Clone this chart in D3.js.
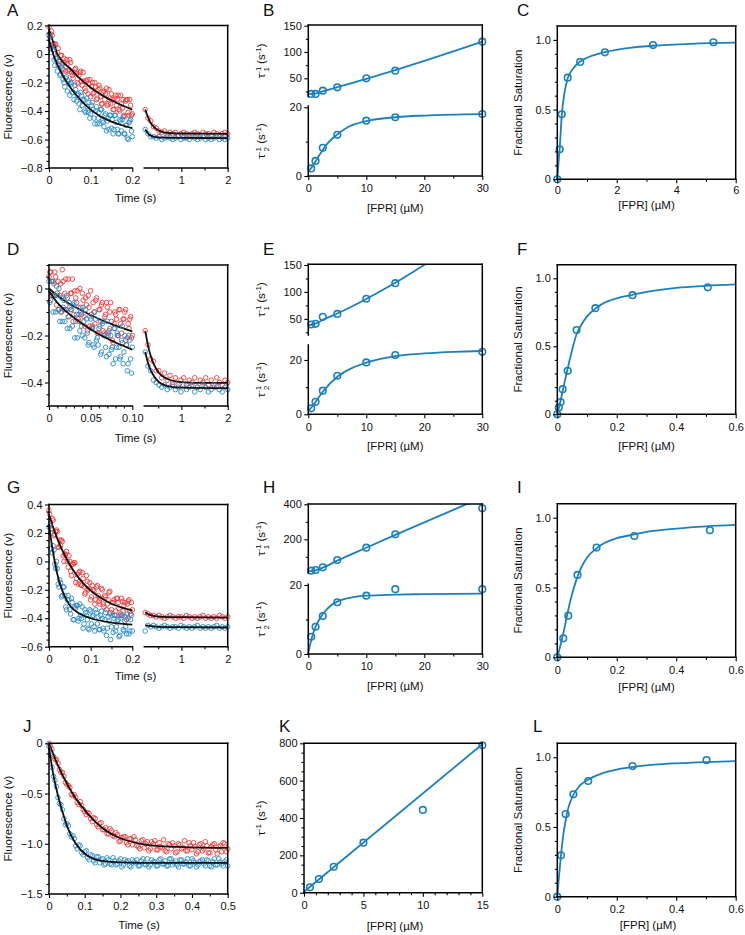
<!DOCTYPE html>
<html><head><meta charset="utf-8">
<script src="https://cdn.jsdelivr.net/npm/d3@7"></script>
<style>
body{margin:0;background:#fff;}
svg{display:block;}
</style></head><body>
<script>
// ===================== DATA =====================
// --- Panel A (time courses; red & blue traces, split time axis) ---
const tA_left = [0, 0.2], tA_left_b = [0.002, 0.198], tA_right = [0.22, 2];
const redA_left = [.19,.14,.13,.05,.07,.01,-.05,-.01,-.07,-.03,-.12,-.07,-.11,-.06,-.15,-.13,-.10,-.20,-.15,-.12,-.22,-.19,-.26,-.18,-.21,-.30,-.20,-.27,-.23,-.31,-.22,-.30,-.35,-.26,-.28,-.36,-.25,-.35,-.32,-.39,-.29,-.32,-.39,-.29,-.38,-.43,-.33,-.32,-.43,-.36,-.42];
const redA_left_b = [.12,.16,.07,.07,-.03,.04,-.05,-.01,-.11,-.06,-.04,-.12,-.04,-.13,-.17,-.11,-.14,-.21,-.13,-.19,-.13,-.24,-.19,-.28,-.18,-.23,-.28,-.20,-.32,-.25,-.24,-.35,-.27,-.32,-.24,-.35,-.31,-.28,-.39,-.31,-.36,-.29,-.40,-.35,-.32,-.44,-.32,-.41,-.32,-.43];
const blueA_left = [.13,.04,.06,-.04,-.03,-.12,-.07,-.14,-.10,-.20,-.17,-.26,-.21,-.20,-.27,-.32,-.25,-.29,-.35,-.27,-.36,-.32,-.41,-.37,-.34,-.42,-.34,-.45,-.40,-.49,-.41,-.39,-.47,-.51,-.42,-.47,-.53,-.43,-.46,-.53,-.43,-.53,-.56,-.47,-.46,-.56,-.50,-.59,-.48,-.46,-.58];
const blueA_left_b = [.12,.01,.03,-.08,-.03,-.08,-.15,-.09,-.18,-.23,-.16,-.19,-.29,-.21,-.27,-.22,-.33,-.28,-.39,-.29,-.33,-.40,-.31,-.41,-.45,-.36,-.39,-.49,-.37,-.45,-.49,-.39,-.48,-.43,-.54,-.45,-.43,-.52,-.56,-.43,-.48,-.56,-.46,-.54,-.44,-.56,-.50,-.60,-.47,-.54];
const redA_right = [-.39,-.45,-.47,-.51,-.52,-.54,-.55,-.54,-.56,-.55,-.56,-.55,-.57,-.56,-.55,-.56,-.57,-.56,-.55,-.56,-.57,-.55,-.56,-.56,-.57,-.55,-.56,-.57,-.56,-.55,-.56];
const blueA_right = [-.53,-.56,-.58,-.58,-.59,-.58,-.60,-.59,-.58,-.59,-.60,-.59,-.58,-.60,-.59,-.59,-.60,-.58,-.59,-.60,-.59,-.58,-.60,-.59,-.60,-.59,-.58,-.60,-.59,-.60,-.59];
const fitA_redL = [[0,0.17],[0.01,0.085],[0.02,0.0],[0.035,-0.06],[0.05,-0.1],[0.075,-0.175],[0.1,-0.235],[0.125,-0.285],[0.15,-0.325],[0.175,-0.36],[0.2,-0.39]];
const fitA_blueL = [[0,0.10],[0.01,0.0],[0.02,-0.075],[0.035,-0.16],[0.05,-0.23],[0.075,-0.32],[0.1,-0.39],[0.125,-0.44],[0.15,-0.475],[0.175,-0.5],[0.2,-0.52]];
const fitA_redR = [[0.22,-0.39],[0.3,-0.46],[0.4,-0.51],[0.5,-0.535],[0.6,-0.548],[0.8,-0.556],[1,-0.558],[2,-0.56]];
const fitA_blueR = [[0.22,-0.53],[0.3,-0.565],[0.4,-0.58],[0.5,-0.585],[1,-0.589],[2,-0.59]];

// --- Panel D ---
const tD_left = [0, 0.1], tD_left_b = [0.001, 0.099], tD_right = [0.22, 2];
const redD_left = [.05,.07,-.03,.02,.05,-.02,-.09,.02,.08,-.09,.04,-.04,-.12,-.02,.04,-.11,-.04,-.01,-.14,-.08,-.02,-.12,-.04,-.18,-.08,-.01,-.16,-.10,-.05,-.19,-.09,-.14,-.06,-.19,-.11,-.08,-.18,-.06,-.22,-.15,-.11,-.20,-.09,-.15,-.23,-.13,-.09,-.21,-.17,-.12,-.20];
const redD_left_b = [.07,-.03,.03,.07,-.07,.03,-.03,-.10,.03,-.02,-.09,.04,-.08,-.02,-.14,-.01,-.06,-.13,.00,-.11,-.05,-.16,-.07,-.03,-.16,-.11,-.06,-.15,-.04,-.19,-.09,-.07,-.18,-.12,-.06,-.20,-.10,-.14,-.23,-.10,-.13,-.20,-.09,-.19,-.13,-.10,-.24,-.15,-.13,-.21];
const blueD_left = [.03,-.05,.03,-.03,-.10,-.03,.00,-.10,-.14,-.05,-.09,-.17,-.06,-.09,-.16,-.06,-.14,-.21,-.11,-.10,-.20,-.14,-.09,-.19,-.23,-.13,-.17,-.25,-.13,-.21,-.17,-.28,-.15,-.20,-.25,-.14,-.28,-.20,-.25,-.17,-.30,-.19,-.25,-.29,-.16,-.27,-.22,-.35,-.20,-.30,-.25];
const blueD_left_b = [-.06,.03,-.10,-.03,.01,-.09,-.14,-.04,-.08,-.14,-.03,-.12,-.17,-.09,-.07,-.21,-.11,-.08,-.18,-.16,-.08,-.21,-.13,-.24,-.12,-.17,-.24,-.10,-.22,-.24,-.16,-.27,-.14,-.20,-.29,-.19,-.17,-.26,-.32,-.17,-.25,-.20,-.30,-.22,-.32,-.20,-.24,-.32,-.22,-.36];
const redD_right = [-.18,-.24,-.30,-.31,-.35,-.35,-.38,-.36,-.39,-.37,-.40,-.38,-.41,-.39,-.38,-.41,-.39,-.40,-.38,-.42,-.39,-.40,-.38,-.41,-.39,-.42,-.38,-.40,-.41,-.39,-.40];
const blueD_right = [-.27,-.33,-.35,-.39,-.40,-.41,-.42,-.41,-.43,-.42,-.41,-.43,-.42,-.44,-.41,-.43,-.42,-.41,-.44,-.42,-.43,-.41,-.42,-.44,-.43,-.41,-.42,-.43,-.44,-.42,-.43];
const fitD_redL = [[0,0.0],[0.01,-0.03],[0.02,-0.055],[0.04,-0.095],[0.06,-0.13],[0.08,-0.158],[0.1,-0.183]];
const fitD_blueL = [[0,-0.01],[0.01,-0.06],[0.02,-0.095],[0.04,-0.15],[0.06,-0.195],[0.08,-0.23],[0.1,-0.26]];
const fitD_redR = [[0.22,-0.18],[0.3,-0.26],[0.4,-0.32],[0.5,-0.355],[0.7,-0.385],[1,-0.398],[1.5,-0.402],[2,-0.402]];
const fitD_blueR = [[0.22,-0.27],[0.3,-0.33],[0.4,-0.37],[0.5,-0.395],[0.7,-0.415],[1,-0.422],[2,-0.424]];

// --- Panel G ---
const tG_left = [0, 0.2], tG_left_b = [0.002, 0.198], tG_right = [0.22, 2];
const redG_left = [.36,.27,.30,.18,.21,.21,.10,.11,.14,.00,.05,.00,.04,-.07,-.02,-.01,-.15,-.09,-.08,-.16,-.08,-.18,-.22,-.14,-.19,-.27,-.17,-.21,-.27,-.17,-.28,-.26,-.20,-.32,-.25,-.30,-.22,-.36,-.29,-.27,-.35,-.26,-.33,-.37,-.28,-.31,-.39,-.30,-.27,-.37,-.34];
const redG_left_b = [.33,.23,.29,.19,.22,.10,.15,.15,.04,.05,.07,-.04,.00,-.10,-.02,-.01,-.12,-.16,-.07,-.17,-.12,-.23,-.10,-.20,-.15,-.25,-.20,-.30,-.18,-.24,-.30,-.19,-.30,-.24,-.34,-.27,-.21,-.34,-.29,-.38,-.26,-.29,-.38,-.26,-.35,-.29,-.41,-.28,-.35,-.29];
const blueG_left = [.24,.20,.06,.08,-.05,-.05,-.18,-.15,-.24,-.18,-.32,-.27,-.27,-.37,-.29,-.41,-.33,-.31,-.40,-.38,-.32,-.44,-.36,-.41,-.48,-.35,-.39,-.46,-.34,-.44,-.48,-.38,-.40,-.49,-.36,-.47,-.42,-.55,-.38,-.40,-.49,-.42,-.53,-.40,-.38,-.49,-.46,-.37,-.51,-.41,-.49];
const blueG_left_b = [.25,.09,.11,-.02,.00,-.16,-.13,-.25,-.18,-.24,-.34,-.24,-.34,-.26,-.41,-.32,-.31,-.42,-.30,-.40,-.47,-.34,-.38,-.47,-.34,-.44,-.38,-.49,-.36,-.39,-.48,-.35,-.47,-.41,-.52,-.39,-.37,-.46,-.50,-.38,-.46,-.41,-.52,-.38,-.48,-.42,-.51,-.40,-.49,-.38];
const redG_right = [-.36,-.37,-.38,-.38,-.39,-.38,-.39,-.40,-.39,-.38,-.39,-.40,-.39,-.39,-.40,-.38,-.39,-.40,-.39,-.40,-.39,-.38,-.40,-.39,-.40,-.39,-.40,-.38,-.39,-.40,-.39];
const blueG_right = [-.49,-.45,-.46,-.45,-.46,-.47,-.46,-.45,-.46,-.47,-.46,-.46,-.47,-.45,-.46,-.47,-.46,-.47,-.46,-.45,-.47,-.46,-.47,-.46,-.47,-.46,-.45,-.47,-.46,-.47,-.46];
const fitG_redL = [[0,0.33],[0.0125,0.218],[0.025,0.123],[0.0375,0.045],[0.05,-0.024],[0.075,-0.13],[0.1,-0.205],[0.125,-0.258],[0.15,-0.298],[0.175,-0.325],[0.2,-0.345]];
const fitG_blueL = [[0,0.26],[0.005,0.15],[0.01,0.06],[0.015,-0.02],[0.02,-0.09],[0.03,-0.19],[0.04,-0.26],[0.05,-0.31],[0.075,-0.37],[0.1,-0.4],[0.15,-0.43],[0.2,-0.445]];
const fitG_redR = [[0.22,-0.357],[0.3,-0.375],[0.5,-0.388],[1,-0.392],[2,-0.395]];
const fitG_blueR = [[0.22,-0.45],[0.5,-0.46],[1,-0.463],[2,-0.465]];

// --- Panel J ---
const tJ = [0, 0.5], tJ_b = [0.0041667, 0.4958333];
const redJ = [.00,-.06,-.16,-.20,-.29,-.33,-.41,-.44,-.52,-.54,-.61,-.62,-.68,-.69,-.75,-.74,-.81,-.80,-.86,-.84,-.90,-.87,-.93,-.91,-.97,-.93,-.99,-.95,-1.01,-.96,-1.03,-.97,-1.04,-.98,-1.05,-1.00,-1.06,-.99,-1.04,-1.07,-1.00,-1.05,-1.02,-1.08,-1.01,-1.04,-1.07,-.99,-1.06,-1.03,-1.08,-1.00,-1.05,-1.02,-1.09,-1.01,-1.06,-1.03,-1.08,-1.00,-1.05];
const redJ_b = [-.03,-.13,-.16,-.26,-.29,-.39,-.42,-.51,-.51,-.59,-.58,-.66,-.71,-.70,-.78,-.75,-.83,-.79,-.86,-.90,-.85,-.92,-.89,-.98,-.94,-.93,-1.01,-.95,-.93,-1.02,-1.05,-.96,-1.00,-1.07,-.98,-.97,-1.06,-1.03,-.96,-1.08,-1.01,-.99,-1.09,-1.00,-1.05,-.97,-1.07,-1.02,-.99,-1.10,-1.01,-1.07,-.98,-1.09,-1.03,-1.00,-1.10,-1.02,-.99,-1.08];
const blueJ = [-.03,-.24,-.37,-.54,-.61,-.75,-.80,-.90,-.92,-1.02,-1.01,-1.09,-1.08,-1.14,-1.11,-1.17,-1.13,-1.19,-1.15,-1.20,-1.16,-1.21,-1.17,-1.20,-1.15,-1.21,-1.18,-1.22,-1.16,-1.19,-1.22,-1.17,-1.20,-1.15,-1.21,-1.18,-1.22,-1.16,-1.20,-1.17,-1.22,-1.15,-1.19,-1.21,-1.16,-1.20,-1.18,-1.22,-1.15,-1.19,-1.21,-1.17,-1.20,-1.16,-1.22,-1.18,-1.21,-1.15,-1.20,-1.18,-1.22];
const blueJ_b = [-.12,-.33,-.43,-.60,-.66,-.81,-.82,-.93,-.95,-1.05,-1.02,-1.11,-1.07,-1.16,-1.12,-1.19,-1.13,-1.16,-1.21,-1.14,-1.20,-1.14,-1.21,-1.17,-1.23,-1.16,-1.17,-1.23,-1.18,-1.16,-1.22,-1.15,-1.21,-1.23,-1.16,-1.18,-1.22,-1.15,-1.20,-1.22,-1.15,-1.21,-1.17,-1.23,-1.16,-1.20,-1.15,-1.22,-1.17,-1.23,-1.18,-1.16,-1.22,-1.17,-1.23,-1.15,-1.21,-1.18,-1.22,-1.16];
const fitJ_red = [[0,0],[0.025,-0.22],[0.05,-0.4],[0.075,-0.55],[0.1,-0.665],[0.125,-0.765],[0.15,-0.845],[0.2,-0.945],[0.25,-0.995],[0.3,-1.02],[0.4,-1.035],[0.5,-1.04]];
const fitJ_blue = [[0,-0.05],[0.0125,-0.32],[0.025,-0.52],[0.0375,-0.68],[0.05,-0.82],[0.075,-1.0],[0.1,-1.1],[0.125,-1.15],[0.15,-1.17],[0.2,-1.185],[0.3,-1.19],[0.5,-1.19]];

// --- Panels B, E, H, K (rate constants vs [FPR]) ---
const concFPR = [0.5, 1.25, 2.5, 5, 10, 15, 30];
const tau1_B = [20.2, 20.2, 26.5, 32.8, 50, 64.5, 119.6];
const tau2_B = [2.2, 4.4, 8.2, 12.0, 16.1, 17.1, 18.05];
const fit1_B = [[0,20.5],[1.25,21],[2.5,25],[5,33],[7.5,41],[10,49],[15,65.5],[20,83],[25,101],[30,119.6]];
const fit2_B = [[0,1.2],[1,3.6],[2,6.3],[3,8.8],[4,10.7],[5,12.1],[7,14.4],[10,16.0],[15,17.1],[20,17.6],[30,18.0]];

const conc_E1 = [0.5, 1.25, 2.5, 5, 10, 15];
const tau1_E = [39.5, 40.8, 53.7, 59.2, 87.3, 116.2];
const tau2_E = [2.2, 4.6, 8.7, 14.2, 19.1, 21.8, 23.0];
const fit1_E = [[0,38],[1.25,41],[2.5,48],[5,60],[7.5,73],[10,87],[15,117],[20,150],[25,183],[30,217]];
const fit2_E = [[0,1.2],[1,3.8],[2.5,8.3],[5,13.8],[7.5,17],[10,19],[15,21.4],[20,22.4],[25,23],[30,23.3]];

const tau1_H = [20.6, 24.6, 40, 81.7, 152, 228.6, 377];
const tau2_H = [5.0, 7.9, 11.0, 15.0, 16.9, 18.8, 18.8];
const fit1_H = [[0,18],[1.25,23],[2.5,38],[5,78],[10,152],[15,225],[20,297],[25,368],[30,440]];
const fit2_H = [[0,0.3],[0.5,4],[1,6.8],[2,10.3],[3,12.6],[4,14.2],[5,15.2],[7.5,16.4],[10,16.9],[15,17.2],[20,17.35],[30,17.5]];

const conc_K = [0.5, 1.25, 2.5, 5, 10, 15];
const tau_K = [29, 73, 139, 268, 443, 789];
const fit_K = [[0,5],[15,795]];

// --- Panels C, F, I, L (fractional saturation) ---
const conc_C = [0, 0.08, 0.15, 0.35, 0.77, 1.6, 3.22, 5.25];
const sat_C = [0, 0.215, 0.466, 0.729, 0.842, 0.911, 0.963, 0.983];
const fit_C = [[0,0],[0.04,0.12],[0.08,0.22],[0.15,0.46],[0.25,0.63],[0.35,0.725],[0.5,0.785],[0.77,0.845],[1,0.872],[1.6,0.912],[2.5,0.945],[3.2,0.958],[4.5,0.972],[6,0.98]];
const conc_F = [0, 0.005, 0.011, 0.018, 0.035, 0.065, 0.128, 0.253, 0.506];
const sat_F = [0, 0.05, 0.09, 0.185, 0.32, 0.62, 0.78, 0.876, 0.934];
const fit_F = [[0,0],[0.01,0.09],[0.02,0.19],[0.03,0.29],[0.04,0.385],[0.05,0.475],[0.065,0.59],[0.08,0.655],[0.1,0.72],[0.128,0.777],[0.15,0.81],[0.2,0.853],[0.25,0.877],[0.3,0.9],[0.4,0.93],[0.5,0.945],[0.6,0.955]];
const conc_I = [0, 0.02, 0.037, 0.068, 0.132, 0.259, 0.513];
const sat_I = [0, 0.136, 0.298, 0.59, 0.786, 0.869, 0.91];
const fit_I = [[0,0],[0.01,0.08],[0.02,0.17],[0.03,0.27],[0.04,0.37],[0.05,0.455],[0.065,0.56],[0.08,0.64],[0.1,0.715],[0.132,0.78],[0.15,0.808],[0.2,0.853],[0.259,0.88],[0.3,0.898],[0.4,0.922],[0.5,0.938],[0.6,0.948]];
const conc_L = [0, 0.0125, 0.028, 0.054, 0.104, 0.253, 0.502];
const sat_L = [0, 0.297, 0.593, 0.735, 0.83, 0.937, 0.98];
const fit_L = [[0,0],[0.005,0.13],[0.0125,0.3],[0.02,0.44],[0.028,0.545],[0.035,0.62],[0.054,0.73],[0.075,0.795],[0.104,0.84],[0.15,0.885],[0.2,0.912],[0.253,0.93],[0.3,0.942],[0.4,0.957],[0.5,0.966],[0.6,0.972]];

// --- tick labels ---
const ticksFluoA = [0.2,0,-0.2,-0.4,-0.6,-0.8], labFluoA = ["0.2","0","\u22120.2","\u22120.4","\u22120.6","\u22120.8"];
const ticksFluoD = [0,-0.2,-0.4], labFluoD = ["0","\u22120.2","\u22120.4"];
const ticksFluoG = [0.4,0.2,0,-0.2,-0.4,-0.6], labFluoG = ["0.4","0.2","0","\u22120.2","\u22120.4","\u22120.6"];
const ticksFluoJ = [0,-0.5,-1,-1.5], labFluoJ = ["0","\u22120.5","\u22121.0","\u22121.5"];
const ticksTimeL = [0,0.1,0.2], labTimeL = ["0","0.1","0.2"];
const ticksTimeD = [0,0.05,0.1], labTimeD = ["0","0.05","0.10"];
const ticksTimeR = [1,2], labTimeR = ["1","2"];
const ticksTimeJ = [0,0.1,0.2,0.3,0.4,0.5], labTimeJ = ["0","0.1","0.2","0.3","0.4","0.5"];
const ticksConc30 = [0,10,20,30], labConc30 = ["0","10","20","30"];
const ticksConc15 = [0,5,10,15], labConc15 = ["0","5","10","15"];
const ticksTau150 = [50,100,150], labTau150 = ["50","100","150"];
const ticksTau400 = [200,400], labTau400 = ["200","400"];
const ticksTau20 = [0,20], labTau20 = ["0","20"];
const ticksTau800 = [0,200,400,600,800], labTau800 = ["0","200","400","600","800"];
const ticksSat = [0,0.5,1.0], labSat = ["0","0.5","1.0"];
const ticksConc6 = [0,2,4,6], labConc6 = ["0","2","4","6"];
const ticksConc06 = [0,0.2,0.4,0.6], labConc06 = ["0","0.2","0.4","0.6"];

// ===================== DRAWING =====================
const svg = d3.select("body").append("svg").attr("width",745).attr("height",935);
const TF = "'Liberation Sans', Arial, Helvetica, sans-serif";
const RED = "#ef3a3a", BLUE = "#2a8ac6", LBLUE = "#1b80bf";
const FS = 11;

function minorVals(lo, hi, step, majors){
  return d3.range(Math.round(lo/step), Math.round(hi/step)+1).map(k=>+(k*step).toFixed(6))
    .filter(v => !majors.some(m => Math.abs(m-v) < 1e-9));
}
function styleAxis(g){
  g.attr("font-family",TF).attr("font-size",FS);
  g.select(".domain").remove();
  g.selectAll(".tick line").attr("stroke","#000").attr("stroke-width",1.1);
  g.selectAll(".tick text").attr("fill","#111");
}
function seg(x1,y1,x2,y2){
  svg.append("line").attr("x1",x1).attr("y1",y1).attr("x2",x2).attr("y2",y2)
    .attr("stroke","#000").attr("stroke-width",1.5).attr("stroke-linecap","square");
}
function yAxis(x, sc, vals, labs, minors, y1, y2){
  const g = svg.append("g").attr("transform",`translate(${x},0)`)
    .call(d3.axisLeft(sc).tickValues(vals).tickSize(4).tickPadding(2.5).tickFormat((d,i)=>labs[i]));
  styleAxis(g);
  if (minors && minors.length){
    const m = svg.append("g").attr("transform",`translate(${x},0)`)
      .call(d3.axisLeft(sc).tickValues(minors).tickSize(2.5).tickFormat(""));
    styleAxis(m);
  }
  seg(x,y1,x,y2);
}
function xAxis(y, sc, vals, labs, minors, x1, x2, pad){
  const g = svg.append("g").attr("transform",`translate(0,${y})`)
    .call(d3.axisBottom(sc).tickValues(vals).tickSize(4).tickPadding(pad==null?4.5:pad).tickFormat((d,i)=>labs[i]));
  styleAxis(g);
  if (minors && minors.length){
    const m = svg.append("g").attr("transform",`translate(0,${y})`)
      .call(d3.axisBottom(sc).tickValues(minors).tickSize(2.5).tickFormat(""));
    styleAxis(m);
  }
  seg(x1,y,x2,y);
}
function dots(span, vals, xs, ys, color){
  const n = vals.length;
  svg.append("g").selectAll("circle").data(vals).join("circle")
    .attr("cx",(d,i)=>xs(span[0] + i*(span[1]-span[0])/(n-1)))
    .attr("cy",d=>ys(d)).attr("r",2.3)
    .attr("fill","none").attr("stroke",color).attr("stroke-width",0.9);
}
function markers(xv, yv, xs, ys){
  svg.append("g").selectAll("circle").data(yv).join("circle")
    .attr("cx",(d,i)=>xs(xv[i])).attr("cy",d=>ys(d)).attr("r",3.3)
    .attr("fill","none").attr("stroke",LBLUE).attr("stroke-width",1.6);
}
function curve(pts, xs, ys, color, w, clip){
  const p = svg.append("path").datum(pts)
    .attr("d", d3.line().x(d=>xs(d[0])).y(d=>ys(d[1])).curve(d3.curveMonotoneX))
    .attr("fill","none").attr("stroke",color).attr("stroke-width",w).attr("stroke-linejoin","round");
  if (clip) p.attr("clip-path",`url(#${clip})`);
}
function clipRect(id,x,y,w,h){
  svg.append("clipPath").attr("id",id).append("rect").attr("x",x).attr("y",y).attr("width",w).attr("height",h);
}
function letter(t,x,y){
  svg.append("text").attr("x",x).attr("y",y).text(t)
    .attr("font-family",TF).attr("font-size",17).attr("fill","#111");
}
function hText(t,x,y){
  svg.append("text").attr("x",x).attr("y",y).attr("text-anchor","middle").text(t)
    .attr("font-family",TF).attr("font-size",11.5).attr("fill","#111");
}
function vText(t,x,y){
  svg.append("text").attr("transform",`translate(${x},${y}) rotate(-90)`).attr("text-anchor","middle").text(t)
    .attr("font-family",TF).attr("font-size",11.5).attr("fill","#111");
}
function tauText(sub,x,y){
  const t = svg.append("text").attr("transform",`translate(${x},${y}) rotate(-90)`).attr("text-anchor","middle")
    .attr("font-family",TF).attr("font-size",11.5).attr("fill","#111");
  t.append("tspan").text("\u03C4");
  t.append("tspan").attr("font-size",8).attr("dy",-4.5).text("-1");
  if (sub){ t.append("tspan").attr("font-size",8).attr("dx",-4.4).attr("dy",8).text(sub);
            t.append("tspan").attr("dy",-3.5).text(" (s"); }
  else t.append("tspan").attr("dy",4.5).text(" (s");
  t.append("tspan").attr("font-size",8).attr("dy",-4.5).text("-1");
  t.append("tspan").attr("dy",4.5).text(")");
}

// ---------- kinetic panels with split time axis ----------
function kinetic(o){
  const xl = d3.scaleLinear().domain(o.xlDom).range([49,132.3]);
  const xr = d3.scaleLinear().domain([0.2,2]).range([144.3,227.7]);
  const y = d3.scaleLinear().domain(o.yDom).range([o.bottom,o.top]);
  dots(o.tL, o.redL, xl, y, RED); dots(o.tLb, o.redLb, xl, y, RED); curve(o.fitRL, xl, y, "#111", 1.8);
  dots(o.tR, o.redR, xr, y, RED); curve(o.fitRR, xr, y, "#111", 1.8);
  dots(o.tL, o.blueL, xl, y, BLUE); dots(o.tLb, o.blueLb, xl, y, BLUE); curve(o.fitBL, xl, y, "#111", 1.8);
  dots(o.tR, o.blueR, xr, y, BLUE); curve(o.fitBR, xr, y, "#111", 1.8);
  yAxis(49, y, o.yTicks, o.yLabs, minorVals(o.yDom[0],o.yDom[1],0.05,o.yTicks), o.top, o.bottom);
  xAxis(o.bottom, xl, o.xlTicks, o.xlLabs, minorVals(o.xlDom[0],o.xlDom[1],o.xlMinor,o.xlTicks), 49, 132.3);
  xAxis(o.bottom, xr, ticksTimeR, labTimeR, [0.5,1.5], 144.3, 227.7);
  seg(49,o.top,227.7,o.top); seg(227.7,o.top,227.7,o.bottom);
  letter(o.letter, 7, o.ly);
  vText("Fluorescence (v)", 11.5, (o.top+o.bottom)/2);
  hText("Time (s)", 135.5, o.timeY);
}
kinetic({letter:"A", ly:16, top:25.5, bottom:168, yDom:[-0.8,0.2], xlDom:[0,0.2], xlMinor:0.05,
  tL:tA_left, tLb:tA_left_b, tR:tA_right, redL:redA_left, redLb:redA_left_b, blueL:blueA_left, blueLb:blueA_left_b,
  redR:redA_right, blueR:blueA_right,
  fitRL:fitA_redL, fitBL:fitA_blueL, fitRR:fitA_redR, fitBR:fitA_blueR,
  yTicks:ticksFluoA, yLabs:labFluoA, xlTicks:ticksTimeL, xlLabs:labTimeL, timeY:202});
kinetic({letter:"D", ly:255, top:265, bottom:406, yDom:[-0.5,0.1], xlDom:[0,0.1], xlMinor:0.01,
  tL:tD_left, tLb:tD_left_b, tR:tD_right, redL:redD_left, redLb:redD_left_b, blueL:blueD_left, blueLb:blueD_left_b,
  redR:redD_right, blueR:blueD_right,
  fitRL:fitD_redL, fitBL:fitD_blueL, fitRR:fitD_redR, fitBR:fitD_blueR,
  yTicks:ticksFluoD, yLabs:labFluoD, xlTicks:ticksTimeD, xlLabs:labTimeD, timeY:442});
kinetic({letter:"G", ly:493, top:504.5, bottom:646.7, yDom:[-0.6,0.4], xlDom:[0,0.2], xlMinor:0.05,
  tL:tG_left, tLb:tG_left_b, tR:tG_right, redL:redG_left, redLb:redG_left_b, blueL:blueG_left, blueLb:blueG_left_b,
  redR:redG_right, blueR:blueG_right,
  fitRL:fitG_redL, fitBL:fitG_blueL, fitRR:fitG_redR, fitBR:fitG_blueR,
  yTicks:ticksFluoG, yLabs:labFluoG, xlTicks:ticksTimeL, xlLabs:labTimeL, timeY:680});

// ---------- Panel J ----------
{
  const x = d3.scaleLinear().domain([0,0.5]).range([49,227.7]);
  const y = d3.scaleLinear().domain([-1.5,0]).range([894,743.3]);
  dots(tJ, redJ, x, y, RED); dots(tJ_b, redJ_b, x, y, RED); curve(fitJ_red, x, y, "#111", 1.8);
  dots(tJ, blueJ, x, y, BLUE); dots(tJ_b, blueJ_b, x, y, BLUE); curve(fitJ_blue, x, y, "#111", 1.8);
  yAxis(49, y, ticksFluoJ, labFluoJ, minorVals(-1.5,0,0.1,ticksFluoJ), 743.3, 894);
  xAxis(894, x, ticksTimeJ, labTimeJ, minorVals(0,0.5,0.05,ticksTimeJ), 49, 227.7);
  seg(49,743.3,227.7,743.3); seg(227.7,743.3,227.7,894);
  letter("J", 23, 732);
  vText("Fluorescence (v)", 11.5, 818.6);
  hText("Time (s)", 139, 929);
}

// ---------- two-part rate panels B, E, H ----------
function ratePanel(o){
  const x = d3.scaleLinear().domain([0,30]).range([308.3,482.3]);
  const yU = d3.scaleLinear().domain(o.uDom).range(o.uRange);
  const yL = d3.scaleLinear().domain(o.lDom).range(o.lRange);
  clipRect("clip"+o.letter, 300, o.top, 190, o.uBot-o.top+4);
  curve(o.fit1, x, yU, LBLUE, 1.8, "clip"+o.letter);
  markers(o.c1, o.t1, x, yU);
  curve(o.fit2, x, yL, LBLUE, 1.8);
  markers(concFPR, o.t2, x, yL);
  yAxis(308.3, yU, o.uTicks, o.uLabs, o.uMinor, o.top, o.uBot);
  yAxis(308.3, yL, ticksTau20, labTau20, [10], o.lTop, o.bottom);
  xAxis(o.bottom, x, ticksConc30, labConc30, [5,15,25], 308.3, 482.3);
  seg(308.3,o.top,482.3,o.top); seg(482.3,o.top,482.3,o.bottom);
  letter(o.letter, 263, o.ly);
  tauText("1", 265, (o.top+o.uBot)/2);
  tauText("2", 265, (o.lTop+o.bottom)/2);
  hText("[FPR] (\u00B5M)", 395.3, o.labY);
}
ratePanel({letter:"B", ly:16, top:25, bottom:176, uDom:[15,150], uRange:[96.7,25.7], uBot:96.7,
  lDom:[0,20], lRange:[176,107.3], lTop:106, c1:concFPR, t1:tau1_B, t2:tau2_B, fit1:fit1_B, fit2:fit2_B,
  uTicks:ticksTau150, uLabs:labTau150, uMinor:[25,75,125], labY:212});
ratePanel({letter:"E", ly:255, top:264.3, bottom:414.3, uDom:[20,150], uRange:[335,265], uBot:335,
  lDom:[0,25], lRange:[414.3,346.4], lTop:345, c1:conc_E1, t1:tau1_E, t2:tau2_E, fit1:fit1_E, fit2:fit2_E,
  uTicks:ticksTau150, uLabs:labTau150, uMinor:[25,75,125], labY:450});
ratePanel({letter:"H", ly:493, top:504, bottom:654, uDom:[0,400], uRange:[574.3,504.3], uBot:573,
  lDom:[0,20], lRange:[654,585], lTop:584.3, c1:concFPR, t1:tau1_H, t2:tau2_H, fit1:fit1_H, fit2:fit2_H,
  uTicks:ticksTau400, uLabs:labTau400, uMinor:[100,300], labY:690});

// ---------- Panel K ----------
{
  const x = d3.scaleLinear().domain([0,15]).range([304,482.3]);
  const y = d3.scaleLinear().domain([0,800]).range([892.7,743.3]);
  curve(fit_K, x, y, LBLUE, 1.8);
  markers(conc_K, tau_K, x, y);
  yAxis(304, y, ticksTau800, labTau800, minorVals(0,800,50,ticksTau800), 743.3, 892.7);
  xAxis(892.7, x, ticksConc15, labConc15, minorVals(0,15,1,ticksConc15), 304, 482.3);
  seg(304,743.3,482.3,743.3); seg(482.3,743.3,482.3,892.7);
  letter("K", 279, 732);
  tauText(null, 265, 818);
  hText("[FPR] (\u00B5M)", 395, 930);
}

// ---------- saturation panels C, F, I, L ----------
function satPanel(o){
  const x = d3.scaleLinear().domain(o.xDom).range([557.3,735.7]);
  const y = d3.scaleLinear().domain([0,1.1]).range([o.bottom, o.bottom - 1.1*o.unit]);
  const top = y(1.1);
  curve(o.fit, x, y, LBLUE, 1.8);
  markers(o.cx, o.cy, x, y);
  yAxis(557.3, y, ticksSat, labSat, minorVals(0,1.0,0.1,ticksSat), top, o.bottom);
  xAxis(o.bottom, x, o.xTicks, o.xLabs, o.xMinor, 557.3, 735.7, o.pad);
  seg(557.3,top,735.7,top); seg(735.7,top,735.7,o.bottom);
  letter(o.letter, o.lx, o.ly);
  vText("Fractional Saturation", 521.7, (top+o.bottom)/2);
  hText("[FPR] (\u00B5M)", o.labX, o.labY);
}
satPanel({letter:"C", lx:517, ly:16, bottom:179.3, unit:139.4, xDom:[0,6], cx:conc_C, cy:sat_C, fit:fit_C,
  xTicks:ticksConc6, xLabs:labConc6, xMinor:[1,3,5], labX:646.5, labY:209, pad:3});
satPanel({letter:"F", lx:517, ly:255, bottom:414.3, unit:136, xDom:[0,0.6], cx:conc_F, cy:sat_F, fit:fit_F,
  xTicks:ticksConc06, xLabs:labConc06, xMinor:[0.1,0.3,0.5], labX:646.5, labY:450});
satPanel({letter:"I", lx:517, ly:493, bottom:657.3, unit:139.6, xDom:[0,0.6], cx:conc_I, cy:sat_I, fit:fit_I,
  xTicks:ticksConc06, xLabs:labConc06, xMinor:[0.1,0.3,0.5], labX:646.5, labY:691});
satPanel({letter:"L", lx:533, ly:732, bottom:896.7, unit:139.4, xDom:[0,0.6], cx:conc_L, cy:sat_L, fit:fit_L,
  xTicks:ticksConc06, xLabs:labConc06, xMinor:[0.1,0.3,0.5], labX:648, labY:929});
</script></body></html>
